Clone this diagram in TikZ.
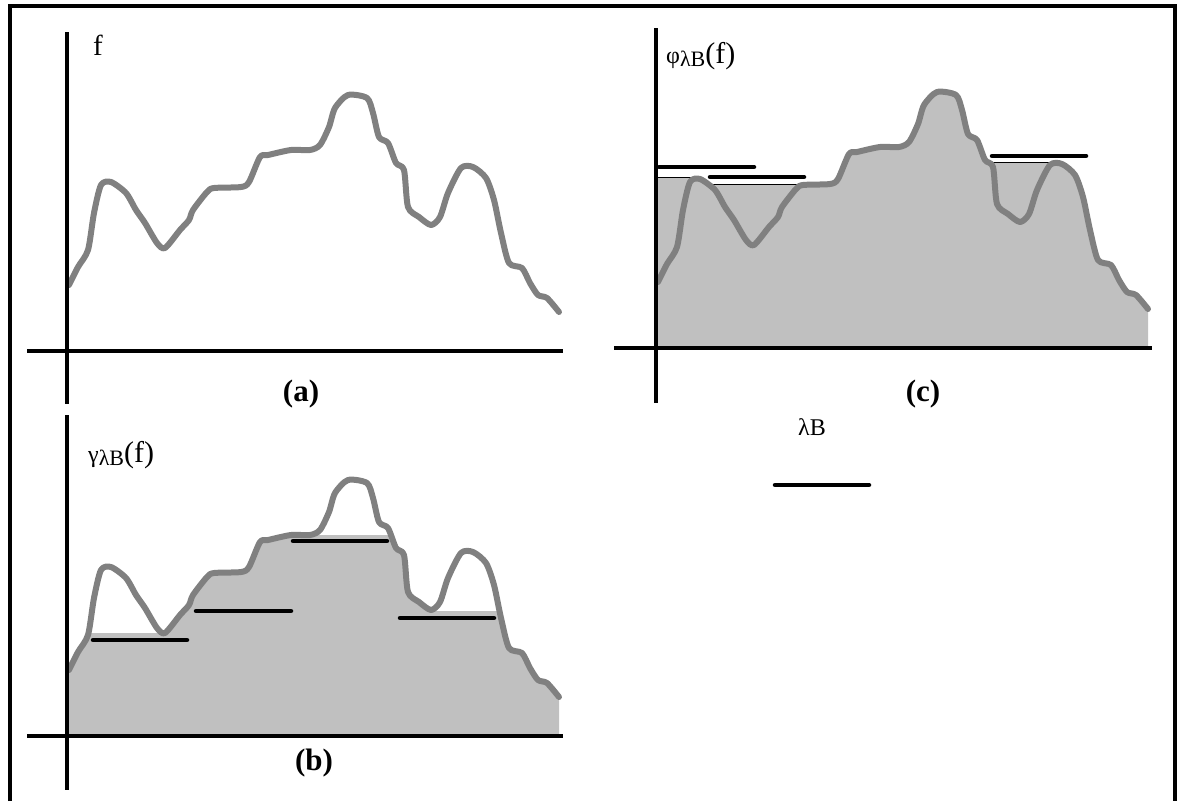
\documentclass[tikz,border=0pt]{standalone}
\usepackage{fontspec}
\setmainfont{Liberation Serif}
\begin{document}
\begin{tikzpicture}[x=1pt,y=-1pt,
  axisline/.style={line width=4pt,black},
  curveline/.style={line width=6pt,color=curvegray,line cap=round,line join=round},
  barline/.style={line width=4.5pt,black,line cap=round},
  levelline/.style={line width=0.8pt,black},
  fillarea/.style={fill=fillgray},
  panellabel/.style={font=\fontsize{31}{31}\selectfont\bfseries,inner sep=0pt},
  framestyle/.style={line width=4.5pt,black}]
\definecolor{curvegray}{RGB}{128,128,128}
\definecolor{fillgray}{RGB}{192,192,192}
\useasboundingbox (0,0) rectangle (1177,801);
\fill[white] (0,0) rectangle (1177,801);
\newcommand\fpath{plot[smooth,tension=0.45] coordinates {(69,285) (78,267) (88,250) (94,213) (101,185) (111,182) (126,193) (136,210) (145,223) (157,243) (165,248) (180,230) (189,220) (193,210) (207,192) (214,188) (241,187) (249,182) (260,157) (268,155) (291,150) (310,150) (320,145) (329,127) (335,108) (348,95) (367,98) (373,113) (379,137) (388,143) (396,163) (404,170) (408,207) (419,217) (431,225) (440,217) (448,193) (461,168) (473,167) (486,178) (494,200) (501,233) (509,263) (522,268) (530,283) (538,295) (547,298) (559,312)}}
% frame
\draw[framestyle] (10,801) -- (10,6) -- (1175,6) -- (1175,801);
% ---------- panel (a)
\begin{scope}
  \draw[curveline] \fpath;
  \draw[axisline] (67,32) -- (67,404);
  \draw[axisline] (27,351) -- (563,351);
\end{scope}
\node[anchor=base west,inner sep=0pt,font=\fontsize{29}{29}\selectfont] (fa) at (93,55) {f};
\node[panellabel] (la) at (301,394) {(a)};
% ---------- panel (b): opening
\begin{scope}[shift={(0,385)}]
  \fill[fillarea] \fpath -- (559,351) -- (69,351) -- cycle;
  \fill[white] (70,60) rectangle (165,248);
  \fill[white] (287,80) rectangle (392,150);
  \fill[white] (431,150) rectangle (500,226);
  \draw[curveline] \fpath;
  \draw[barline] (93,255) -- (187,255);
  \draw[barline] (196,226) -- (291,226);
  \draw[barline] (293,156) -- (387,156);
  \draw[barline] (400,233) -- (494,233);
  \draw[axisline] (67,30) -- (67,405);
  \draw[axisline] (27,351) -- (563,351);
\end{scope}
\node[anchor=base west,inner sep=0pt] (lg) at (88,462) {{\fontsize{24}{24}\selectfont γ}{\fontsize{22}{22}\selectfont\raisebox{-3pt}{λB}}{\fontsize{30}{30}\selectfont(f)}};
\node[panellabel] (lb) at (314,763) {(b)};
% ---------- panel (c): closing
\begin{scope}[shift={(589,-3)}]
  \fill[fillarea] \fpath -- (559,351) -- (69,351) -- cycle;
  \fill[fillarea] (67,180) rectangle (110,351);
  \fill[fillarea] (110,187) rectangle (212,351);
  \fill[fillarea] (401,165) rectangle (467,351);
  \draw[levelline] (67,180) -- (109,180);
  \draw[levelline] (117,187) -- (211,187);
  \draw[levelline] (401,165) -- (465,165);
  \draw[curveline] \fpath;
  \draw[barline] (70,170) -- (165,170);
  \draw[barline] (121,180) -- (215,180);
  \draw[barline] (403,159) -- (497,159);
  \draw[axisline] (67,31) -- (67,406);
  \draw[axisline] (25,351) -- (563,351);
\end{scope}
\node[anchor=base west,inner sep=0pt] (lc) at (666,63) {{\fontsize{24}{24}\selectfont φ}{\fontsize{22}{22}\selectfont\raisebox{-3pt}{λB}}{\fontsize{30}{30}\selectfont(f)}};
\node[panellabel] (lcc) at (923,394) {(c)};
% ---------- legend
\node[inner sep=0pt,font=\fontsize{24}{24}\selectfont] (lam) at (812,427) {λB};
\coordinate (bl) at (775,485);
\coordinate (br) at (869,485);
\draw[barline] (bl) -- (br);
\end{tikzpicture}
\end{document}
